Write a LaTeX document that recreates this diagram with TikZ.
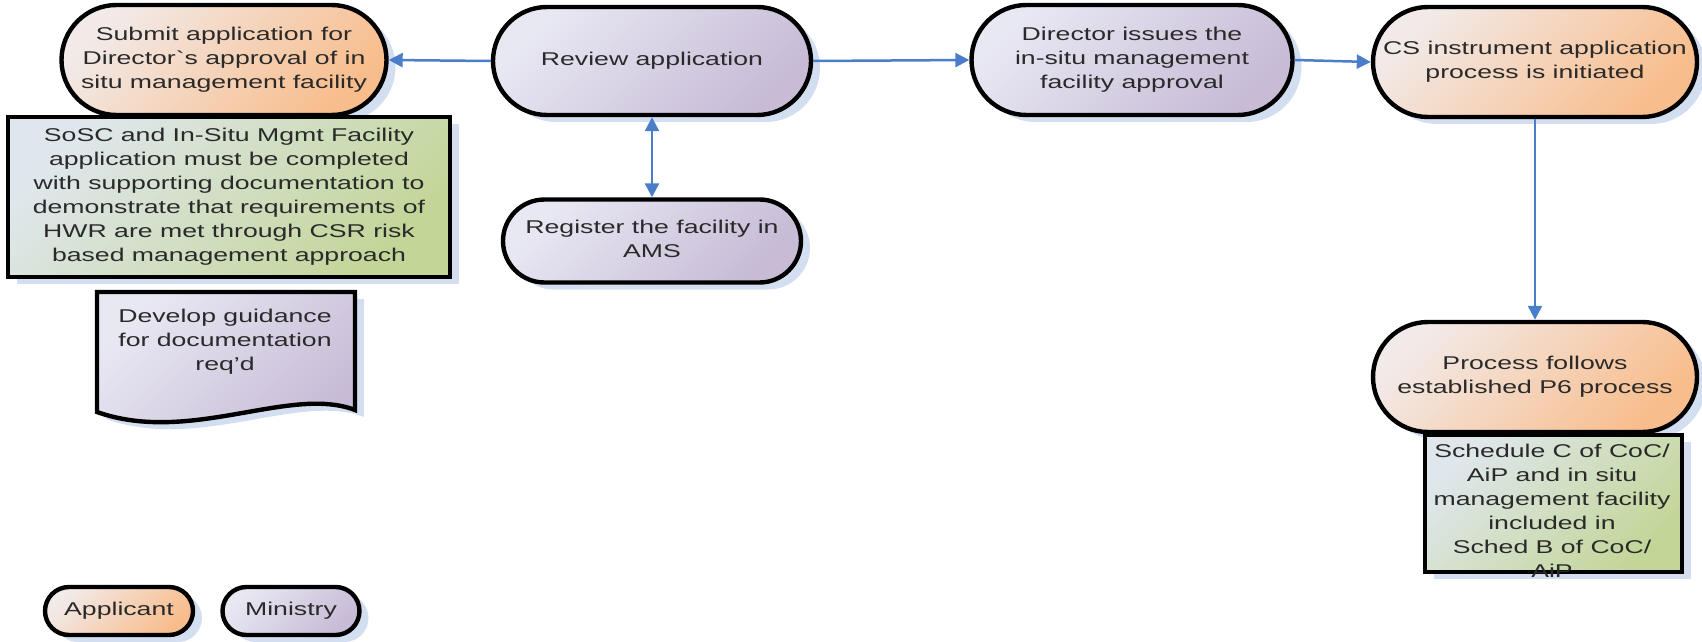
\documentclass[tikz,border=0pt]{standalone}
\usepackage{fontspec}
\setmainfont{Liberation Sans}[Ligatures=TeXOff]
\usepackage{graphicx}
\usetikzlibrary{shapes.misc,shadows,arrows.meta}
\definecolor{arrowblue}{HTML}{4A7EC8}
\definecolor{shadowblue}{HTML}{D3DEF0}
\definecolor{txtgray}{HTML}{2A2A2A}
\definecolor{orA}{HTML}{F2EAE8}
\definecolor{orB}{HTML}{F8BD8C}
\definecolor{puA}{HTML}{E8E8F3}
\definecolor{puB}{HTML}{C7BBD6}
\definecolor{grA}{HTML}{DFE7EC}
\definecolor{grB}{HTML}{C2D698}
\newcommand{\tx}[1]{\scalebox{1.44}[1]{\begin{tabular}{@{}c@{}}#1\end{tabular}}}
\tikzset{
  txt/.style={text=txtgray, inner sep=0pt, font=\fontsize{9.25}{12}\selectfont},
  base/.style={txt, draw=black, line width=2.2pt,
    drop shadow={shadow xshift=4.5pt, shadow yshift=-3.5pt, fill=shadowblue, opacity=1}},
  term/.style={base, rounded rectangle},
  boxr/.style={base, rectangle},
  orangef/.style={top color=orA, bottom color=orB, shading angle=45},
  purplef/.style={top color=puA, bottom color=puB, shading angle=45},
  greenf/.style={top color=grA, bottom color=grB, shading angle=45},
  arr/.style={draw=arrowblue, line width=1.25pt, -{Triangle[length=7pt,width=7pt]}},
  darr/.style={draw=arrowblue, line width=1.25pt, {Triangle[length=7pt,width=7pt]}-{Triangle[length=7pt,width=7pt]}}
}
\begin{document}
\begin{tikzpicture}[x=0.5pt, y=-0.5pt]
\useasboundingbox (0,0) rectangle (1702,642);

\node[term, orangef, minimum width=162.5pt, minimum height=55pt] (submit) at (224,60)
  {\tx{Submit application for\\Director`s approval of in\\situ management facility}};
\node[boxr, greenf, minimum width=221pt, minimum height=80pt] (sosc) at (229,197)
  {\tx{SoSC and In-Situ Mgmt Facility\\application must be completed\\with supporting documentation to\\demonstrate that requirements of\\HWR are met through CSR risk\\based management approach}};

% document shape
\begin{scope}[shift={(9,7)}]
\fill[shadowblue] (97,292) -- (355,292) -- (355,410) .. controls (290,385) and (190,445) .. (97,412) -- cycle;
\end{scope}
\path[draw=black, line width=2.2pt, purplef] (97,292) -- (355,292) -- (355,410) .. controls (290,385) and (190,445) .. (97,412) -- cycle;
\node[txt] (doc) at (225,342) {\tx{Develop guidance\\for documentation\\req’d}};

\node[term, purplef, minimum width=159pt, minimum height=54pt] (review) at (652,61)
  {\tx{Review application}};
\node[term, purplef, minimum width=149pt, minimum height=41.5pt] (register) at (652,241)
  {\tx{Register the facility in\\AMS}};
\node[term, purplef, minimum width=160.5pt, minimum height=55pt] (director) at (1132,60)
  {\tx{Director issues the\\in-situ management\\facility approval}};
\node[term, orangef, minimum width=162pt, minimum height=55pt] (cs) at (1535,62)
  {\tx{CS instrument application\\process is initiated}};
\node[term, orangef, minimum width=162pt, minimum height=55pt] (process) at (1535,377)
  {\tx{Process follows\\established P6 process}};
\node[boxr, greenf, minimum width=128.5pt, minimum height=68.5pt] (schedbox) at (1553.5,503.5) {};
\node[txt] (schedtxt) at (1552,513)
  {\tx{Schedule C of CoC/\\AiP and in situ\\management facility\\included in\\Sched B of CoC/\\AiP}};

\node[term, orangef, minimum width=74pt, minimum height=24pt] (applicant) at (119,611) {\tx{Applicant}};
\node[term, purplef, minimum width=68.5pt, minimum height=24pt] (ministry) at (291,611) {\tx{Ministry}};

\draw[arr] (review.west) -- (submit.east);
\draw[arr] (review.east) -- (director.west);
\draw[arr] (director.east) -- (cs.west);
\draw[darr] (review.south) -- (register.north);
\draw[arr] (cs.south) -- (process.north);
\end{tikzpicture}
\end{document}
